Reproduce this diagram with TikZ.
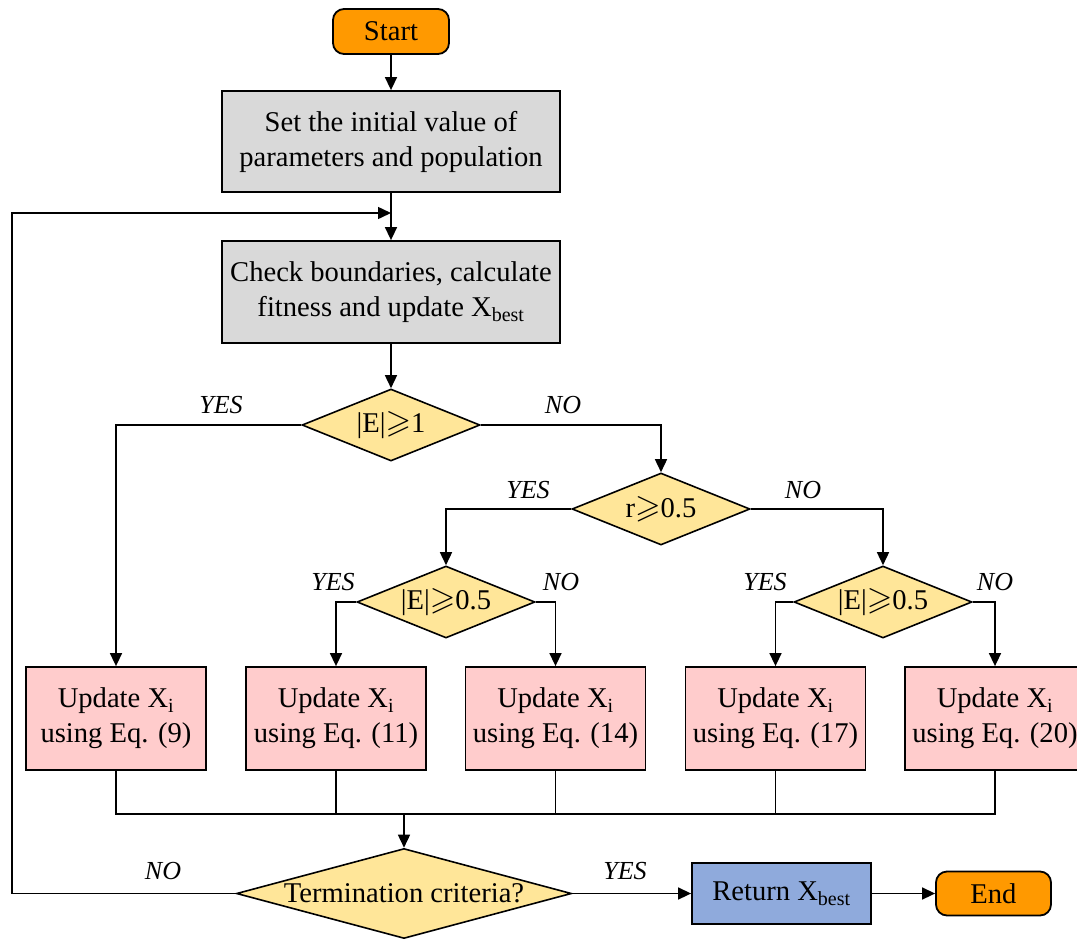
\documentclass[tikz,border=0pt]{standalone}
\usepackage{fontspec}
\setmainfont{Liberation Serif}
\usepackage{amssymb}
\usepackage{graphicx}
\usetikzlibrary{shapes.geometric,arrows.meta}

\definecolor{termorange}{HTML}{FF9900}
\definecolor{procgray}{HTML}{D9D9D9}
\definecolor{decyellow}{HTML}{FFE699}
\definecolor{updpink}{HTML}{FFCCCC}
\definecolor{retblue}{HTML}{8FAADC}

% slanted greater-or-equal sign, sized to the text
\newcommand{\gsl}{\scalebox{1.15}{$\geqslant$}}
% zero-width text so that a diamond takes its size from its minimum dimensions
\newcommand{\zw}[1]{\makebox[0pt]{#1}}
\newcommand{\lowsub}[1]{\textsubscript{#1}}

\begin{document}
\begin{tikzpicture}[x=1pt,y=-1pt,
  basefont/.style={font=\fontsize{28.6}{35}\selectfont},
  terminal/.style={basefont, draw, line width=1.8pt, rounded corners=11pt, fill=termorange, inner sep=0pt},
  procbox/.style={basefont, draw, line width=1.8pt, fill=procgray, align=center, inner sep=0pt},
  updbox/.style={basefont, draw, line width=1.8pt, fill=updpink, align=center, inner sep=0pt,
                 minimum width=180pt, minimum height=103pt},
  retbox/.style={basefont, draw, line width=1.8pt, fill=retblue, inner sep=0pt},
  decision/.style={basefont, diamond, draw, line width=1.6pt, fill=decyellow, inner sep=0pt},
  lbl/.style={font=\fontsize{26}{30}\selectfont\itshape, inner sep=0pt},
  arr/.style={line width=1.5pt, -{Triangle[length=13pt,width=12pt]}},
  merge/.style={line width=1.3pt}
]
\useasboundingbox (0,0) rectangle (1077,938);

% terminals and process boxes
\node[terminal, minimum width=116pt, minimum height=45pt] (start) at (391,31.5) {Start};
\node[procbox, minimum width=338pt, minimum height=101pt] (init) at (391,141.5)
  {Set the initial value of\\parameters and population};
\node[procbox, minimum width=338pt, minimum height=102pt] (check) at (391,292)
  {Check boundaries, calculate\\fitness and update X\lowsub{best}};

% decisions
\node[decision, minimum width=178pt, minimum height=72pt] (d1) at (391,425) {\zw{|E|\gsl1}};
\node[decision, minimum width=178pt, minimum height=72pt] (d2) at (661,509) {\zw{r\gsl0.5}};
\node[decision, minimum width=178pt, minimum height=72pt] (d3) at (446,602) {\zw{|E|\gsl0.5}};
\node[decision, minimum width=178pt, minimum height=72pt] (d4) at (883,602) {\zw{|E|\gsl0.5}};

% update boxes
\node[updbox] (u1) at (116,718.5) {Update X\lowsub{i}\\using Eq. (9)};
\node[updbox] (u2) at (336,718.5) {Update X\lowsub{i}\\using Eq. (11)};
\node[updbox] (u3) at (555.5,718.5) {Update X\lowsub{i}\\using Eq. (14)};
\node[updbox] (u4) at (775.5,718.5) {Update X\lowsub{i}\\using Eq. (17)};
\node[updbox] (u5) at (995,718.5) {Update X\lowsub{i}\\using Eq. (20)};

% termination test and exit
\node[decision, minimum width=335pt, minimum height=90pt] (term) at (404,893.5) {\zw{Termination criteria?}};
\node[retbox, minimum width=179pt, minimum height=61pt] (ret) at (781.5,893.5) {Return X\lowsub{best}};
\node[terminal, minimum width=115pt, minimum height=44pt] (end) at (993.5,893.5) {End};

% branch labels
\node[lbl] (y1) at (221,405) {YES};
\node[lbl] (n1) at (563,405) {NO};
\node[lbl] (y2) at (528,490) {YES};
\node[lbl] (n2) at (803,490) {NO};
\node[lbl] (y3) at (333,582) {YES};
\node[lbl] (n3) at (561,582) {NO};
\node[lbl] (y4) at (765,582) {YES};
\node[lbl] (n4) at (995,582) {NO};
\node[lbl] (n5) at (163,871) {NO};
\node[lbl] (y5) at (625,871) {YES};

% main flow
\draw[arr] (start) -- (init);
\draw[arr] (init) -- (check);
\draw[arr] (check) -- (d1);
\draw[arr] (d1.west) -| (u1.north);
\draw[arr] (d1.east) -| (d2.north);
\draw[arr] (d2.west) -| (d3.north);
\draw[arr] (d2.east) -| (d4.north);
\draw[arr] (d3.west) -| (u2.north);
\draw[arr] (d3.east) -| (u3.north);
\draw[arr] (d4.west) -| (u4.north);
\draw[arr] (d4.east) -| (u5.north);

% merge of the five updates
\coordinate (mrg) at (404,814);
\draw[merge] (u1.south) -- (u1.south |- mrg) -- (u5.south |- mrg) -- (u5.south);
\draw[merge] (u2.south) -- (u2.south |- mrg);
\draw[merge] (u3.south) -- (u3.south |- mrg);
\draw[merge] (u4.south) -- (u4.south |- mrg);
\draw[arr] (mrg) -- (term.north);

% loop back and exit
\coordinate (loopcorner) at (12,213);
\coordinate (loopin) at (391,213);
\draw[arr] (term.west) -| (loopcorner) -- (loopin);
\draw[arr] (term.east) -- (ret.west);
\draw[arr] (ret.east) -- (end.west);
\end{tikzpicture}
\end{document}
